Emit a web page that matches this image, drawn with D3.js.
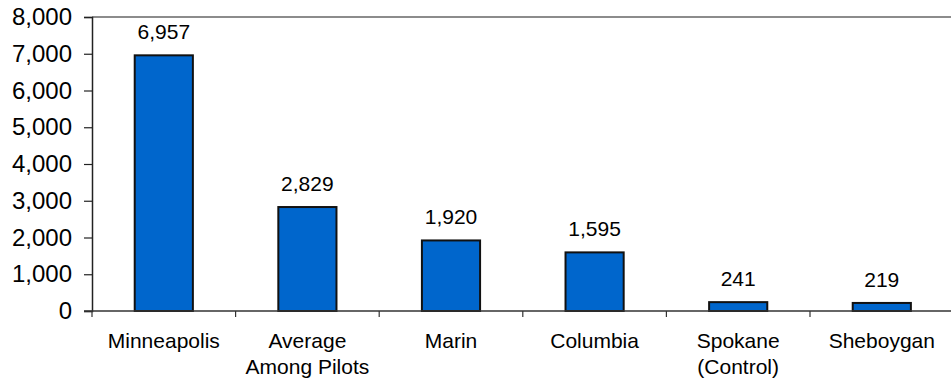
<!DOCTYPE html>
<html>
<head>
<meta charset="utf-8">
<script src="https://cdn.jsdelivr.net/npm/d3@7"></script>
<style>
  html, body { margin: 0; padding: 0; background: #fff; }
  svg { display: block; font-family: Arial, "Liberation Sans", sans-serif; }
</style>
</head>
<body>
<svg id="chart" width="951" height="383"></svg>
<script>
// Pilot sites and their counts
const categories = [["Minneapolis"], ["Average", "Among Pilots"], ["Marin"], ["Columbia"], ["Spokane", "(Control)"], ["Sheboygan"]];
const values = [6957, 2829, 1920, 1595, 241, 219];
const yTicks = [0, 1000, 2000, 3000, 4000, 5000, 6000, 7000, 8000];

const svg = d3.select("#chart");
const plotLeft = 92, plotRight = 953.6, plotTop = 17, plotBottom = 311;

const keys = categories.map(c => c.join(" "));
const x = d3.scaleBand().domain(keys).range([plotLeft, plotRight]).paddingInner(0).paddingOuter(0);
const y = d3.scaleLinear().domain([0, 8000]).range([plotBottom, plotTop]);
const fmt = d3.format(",");

// Top frame line
svg.append("line")
  .attr("x1", plotLeft).attr("x2", 951).attr("y1", plotTop).attr("y2", plotTop)
  .attr("stroke", "#8c8c8c").attr("stroke-width", 2.2);

// Y axis
const yAxis = svg.append("g")
  .attr("transform", `translate(${plotLeft},0)`)
  .call(d3.axisLeft(y).tickValues(yTicks).tickFormat(fmt).tickSizeOuter(0).tickSize(8).tickPadding(12));
yAxis.select(".domain").attr("stroke", "#222").attr("stroke-width", 1.5);
yAxis.selectAll(".tick line").attr("stroke", "#222").attr("stroke-width", 1.2);
yAxis.selectAll(".tick text").attr("font-size", 24).attr("fill", "#000")
  .attr("font-family", "Arial, 'Liberation Sans', sans-serif");

// Bars
const bw = x.bandwidth() * 0.405;
svg.append("g").selectAll("rect")
  .data(values)
  .join("rect")
  .attr("x", (d, i) => x(keys[i]) + x.bandwidth() / 2 - bw / 2)
  .attr("y", d => y(d))
  .attr("width", bw)
  .attr("height", d => y(0) - y(d))
  .attr("fill", "#0066cc")
  .attr("stroke", "#111")
  .attr("stroke-width", 2);

// Value labels
svg.append("g").selectAll("text")
  .data(values)
  .join("text")
  .attr("x", (d, i) => x(keys[i]) + x.bandwidth() / 2)
  .attr("y", d => y(d) - 16)
  .attr("text-anchor", "middle")
  .attr("font-size", 21)
  .attr("fill", "#000")
  .text(d => fmt(d));

// X axis (baseline with tick marks between categories)
const xAxis = svg.append("g").attr("transform", `translate(0,${plotBottom})`);
xAxis.append("line")
  .attr("x1", plotLeft - 8).attr("x2", 951).attr("y1", 0).attr("y2", 0)
  .attr("stroke", "#333").attr("stroke-width", 1.5);
const boundaries = keys.map(k => x(k)).concat([plotRight]);
xAxis.selectAll("line.tk")
  .data(boundaries)
  .join("line")
  .attr("class", "tk")
  .attr("x1", d => d).attr("x2", d => d)
  .attr("y1", 0).attr("y2", 6)
  .attr("stroke", "#333").attr("stroke-width", 1.2);

// Category labels
const lab = xAxis.selectAll("text")
  .data(categories)
  .join("text")
  .attr("text-anchor", "middle")
  .attr("font-size", 21)
  .attr("fill", "#000");
lab.each(function(lines, i) {
  const cx = x(keys[i]) + x.bandwidth() / 2;
  d3.select(this).selectAll("tspan")
    .data(lines)
    .join("tspan")
    .attr("x", cx)
    .attr("y", (d, j) => 37 + j * 26)
    .text(d => d);
});
</script>
</body>
</html>
